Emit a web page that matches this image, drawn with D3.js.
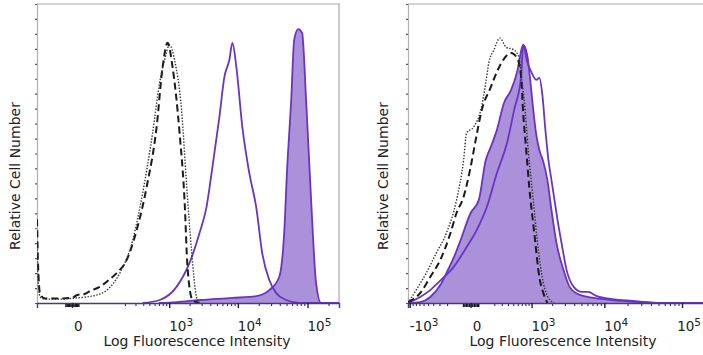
<!DOCTYPE html>
<html>
<head>
<meta charset="utf-8">
<script src="https://cdnjs.cloudflare.com/ajax/libs/d3/7.8.5/d3.min.js"></script>
<style>
  html, body { margin: 0; padding: 0; background: #fff; }
  svg { display: block; font-family: "DejaVu Sans", Verdana, sans-serif; }
</style>
</head>
<body>
<svg id="chart" width="703" height="355"></svg>
<script>
// --- data: [fluorescence, relative count %] ---
const leftDashed = [[-91,28],[-86,12],[-78,3],[-60,1.5],[-31,1.5],[0,1.7],[8,2.7],[22,3],[34,4],[63,5.4],[105,8],[142,10],[214,14.4],[314,24.4],[453,38.8],[646,58.9],[796,78.9],[946,87],[1122,78.9],[1425,56.9],[1686,34.4],[1865,12],[2205,1],[2800,0]];
const leftDotted = [[-91,20],[-85,6],[-78,2],[-60,1.3],[-20,1.3],[7.5,1.7],[54,2.7],[91,4.3],[162,10],[270,21],[392,36.8],[561,56.9],[717,73.6],[853,81.3],[1013,86.3],[1201,81.3],[1525,64.5],[1804,40],[2133,17.7],[2523,2],[2800,0]];
const leftOpen = [[392,0],[717,1],[1285,5.4],[1995,13.4],[2790,23.4],[3520,32],[4300,45.5],[5420,62.2],[6400,75.6],[7550,81.3],[8340,87],[9520,78.9],[11600,58.9],[14600,43.5],[18400,32],[22400,16.7],[28300,7.7],[35600,3.3],[49500,1],[75900,0],[283000,0]];
const leftFilled = [[700,0],[1285,0.3],[2790,1],[8340,1.7],[18400,2.3],[28300,4.3],[39300,8.7],[46300,23.4],[51200,45.5],[58400,67.9],[64400,88],[73500,91.6],[83800,90.3],[95500,67.9],[112700,34.4],[132800,6.7],[156400,0],[283000,0]];

const rightDashed = [[-1062,0.3],[-683,3.3],[-456,8.7],[-288,14.4],[-162,23.4],[-103,30.1],[-46,35.5],[0,45.5],[32,54.5],[77,64.5],[162,72.2],[233,77.3],[302,80.6],[456,83.6],[584,81.9],[683,75.6],[738,63.5],[825,51.2],[921,38.8],[1100,23.4],[1308,8.7],[1498,3.3],[1712,0]];
const rightDotted = [[-1062,0],[-795,4.3],[-539,10],[-349,16.7],[-208,23.4],[-103,34.4],[-46,47.8],[-25,56.9],[19,58.9],[69,64.5],[112,73.6],[141,80.3],[196,84.6],[273,88.6],[366,85.6],[518,84.6],[632,81.9],[710,73.6],[766,67.9],[888,51.2],[1062,34.4],[1264,17.7],[1498,6.7],[1770,1.7],[2155,0]];
const rightOpen = [[-1062,0],[-683,2],[-456,4.3],[-288,7.5],[-131,12],[-25,18.7],[39,24.4],[122,32.1],[233,43.5],[383,53.5],[518,64.5],[683,75.6],[738,86.3],[856,80.6],[989,77.3],[1179,74.6],[1308,75.3],[1449,69.6],[1602,57.9],[1770,47.8],[1955,41.1],[2155,34.4],[2374,27.8],[2699,20],[3163,11],[3940,5.4],[5052,3.7],[6076,3.7],[8000,2.3],[12600,1.3],[23000,0.7],[56360,0],[202600,0]];
const rightFilled = [[-1062,0],[-683,0.3],[-456,2],[-288,6],[-208,10],[-131,15],[-69,21],[0,30.1],[54,34.4],[112,47.8],[162,52.2],[233,57.9],[333,66.9],[456,71.2],[584,77.3],[710,85.6],[738,86.3],[856,82.9],[954,74.6],[1062,64.5],[1179,56.2],[1308,51.2],[1498,47.2],[1712,41.1],[1955,31.1],[2298,20],[2877,11],[3477,5.4],[4750,2.7],[7300,1.7],[17030,0.7],[56360,0],[202600,0]];

// --- axis ticks ---
const leftMajor = [0, 1e3, 1e4, 1e5];
const leftLabels = [["0", ""], ["10", "3"], ["10", "4"], ["10", "5"]];
const rightMajor = [-1e3, 0, 1e3, 1e4, 1e5];
const rightLabels = [["-10", "3"], ["0", ""], ["10", "3"], ["10", "4"], ["10", "5"]];
const minorMult = [2, 3, 4, 5, 6, 7, 8, 9];
const yTicks = d3.range(0, 101, 5);

const xTitle = "Log Fluorescence Intensity";
const yTitle = "Relative Cell Number";

const PURPLE = "#6a34c2";
const FILL = "#a68ad8";

const svg = d3.select("#chart");

function drawPanel(cfg, id) {
  const x = d3.scaleSymlog().constant(cfg.constant).domain(cfg.domain).range(cfg.xRange);
  const y = d3.scaleLinear().domain([0, 100]).range([303, 4]);
  const g = svg.append("g");

  g.append("clipPath").attr("id", "clip" + id)
    .append("rect")
    .attr("x", cfg.xRange[0]).attr("y", 0)
    .attr("width", cfg.xRange[1] - cfg.xRange[0]).attr("height", 304);

  // frame
  g.append("line")
    .attr("x1", cfg.xRange[0]).attr("x2", cfg.xRange[1] + 1)
    .attr("y1", 4).attr("y2", 4)
    .attr("stroke", "#a8a8a8").attr("stroke-width", 1.2);
  g.append("line")
    .attr("x1", cfg.xRange[1]).attr("x2", cfg.xRange[1])
    .attr("y1", 4).attr("y2", 303)
    .attr("stroke", "#a8a8a8").attr("stroke-width", 1.2);

  // y axis
  const yAxis = g.append("g")
    .attr("transform", `translate(${cfg.xRange[0]},0)`)
    .call(d3.axisLeft(y).tickValues(yTicks).tickSize(2).tickFormat(""));
  yAxis.select(".domain").attr("stroke", "#b0b0b0").attr("stroke-width", 1.2);
  yAxis.selectAll(".tick line").attr("stroke", "#555").attr("stroke-width", 1.2);

  const plot = g.append("g").attr("clip-path", `url(#clip${id})`);

  const line = d3.line().x(d => x(d[0])).y(d => y(d[1])).curve(d3.curveMonotoneX);
  const area = d3.area().x(d => x(d[0])).y0(y(0)).y1(d => y(d[1])).curve(d3.curveMonotoneX);

  plot.append("path").datum(cfg.filled)
    .attr("d", area).attr("fill", FILL).attr("fill-opacity", 0.95);
  plot.append("path").datum(cfg.filled)
    .attr("d", line).attr("fill", "none").attr("stroke", PURPLE).attr("stroke-width", 1.8);
  plot.append("path").datum(cfg.open)
    .attr("d", line).attr("fill", "none").attr("stroke", PURPLE).attr("stroke-width", 1.8);
  plot.append("path").datum(cfg.dashed)
    .attr("d", line).attr("fill", "none").attr("stroke", "#1a1a1a")
    .attr("stroke-width", 2).attr("stroke-dasharray", "7,4");
  plot.append("path").datum(cfg.dotted)
    .attr("d", line).attr("fill", "none").attr("stroke", "#333")
    .attr("stroke-width", 1.4).attr("stroke-dasharray", "1.4,1.6");

  // x axis: dense ticks near zero, minor decades, majors
  const nearZero = d3.range(-cfg.zeroBand, cfg.zeroBand + 0.001, cfg.zeroBand / 5);
  const minors = [];
  cfg.decades.forEach(dec => minorMult.forEach(m => {
    const v = m * dec;
    if (v > cfg.domain[0] && v < cfg.domain[1]) minors.push(v);
    if (-v > cfg.domain[0]) minors.push(-v);
  }));

  const axisG = g.append("g").attr("transform", "translate(0,303)");
  axisG.append("g").call(d3.axisBottom(x).tickValues(nearZero).tickSize(4).tickFormat(""))
    .call(a => a.select(".domain").remove())
    .selectAll(".tick line").attr("stroke", "#111").attr("stroke-width", 1.4);
  axisG.append("g").call(d3.axisBottom(x).tickValues(minors).tickSize(3).tickFormat(""))
    .call(a => a.select(".domain").remove())
    .selectAll(".tick line").attr("stroke", "#333").attr("stroke-width", 1.1);
  const major = axisG.append("g").call(d3.axisBottom(x).tickValues(cfg.major).tickSize(5).tickFormat(""));
  major.select(".domain").attr("stroke", "#4a3a7a").attr("stroke-width", 1.4);
  major.selectAll(".tick line").attr("stroke", "#222").attr("stroke-width", 1.4);

  cfg.major.forEach((v, i) => {
    const [base, sup] = cfg.labels[i];
    const t = g.append("text")
      .attr("x", x(v) + (sup ? 0 : 2))
      .attr("y", 331)
      .attr("font-size", 13.5)
      .attr("fill", "#222")
      .attr("text-anchor", "start");
    t.append("tspan").text(base);
    if (sup) t.append("tspan").attr("dy", -5).attr("font-size", 10.5).text(sup);
    // keep labels inside the picture
    const bb = t.node().getBBox();
    if (bb.x + bb.width > 701) t.attr("x", +t.attr("x") - (bb.x + bb.width - 701));
  });

  g.append("text")
    .attr("x", cfg.titleX).attr("y", 346)
    .attr("text-anchor", "middle").attr("font-size", 14).attr("fill", "#222")
    .text(xTitle);

  g.append("text")
    .attr("transform", `translate(${cfg.yTitleX},176) rotate(-90)`)
    .attr("text-anchor", "middle").attr("font-size", 14).attr("fill", "#222")
    .text(yTitle);
}

drawPanel({
  constant: 42, domain: [-91, 283000], xRange: [37, 339],
  major: leftMajor, labels: leftLabels, decades: [100, 1000, 10000, 100000], zeroBand: 10,
  dashed: leftDashed, dotted: leftDotted, open: leftOpen, filled: leftFilled,
  titleX: 197, yTitleX: 20
}, 0);

drawPanel({
  constant: 200, domain: [-1062, 202600], xRange: [408, 706],
  major: rightMajor, labels: rightLabels, decades: [100, 1000, 10000], zeroBand: 50,
  dashed: rightDashed, dotted: rightDotted, open: rightOpen, filled: rightFilled,
  titleX: 563, yTitleX: 388
}, 1);
</script>
</body>
</html>
